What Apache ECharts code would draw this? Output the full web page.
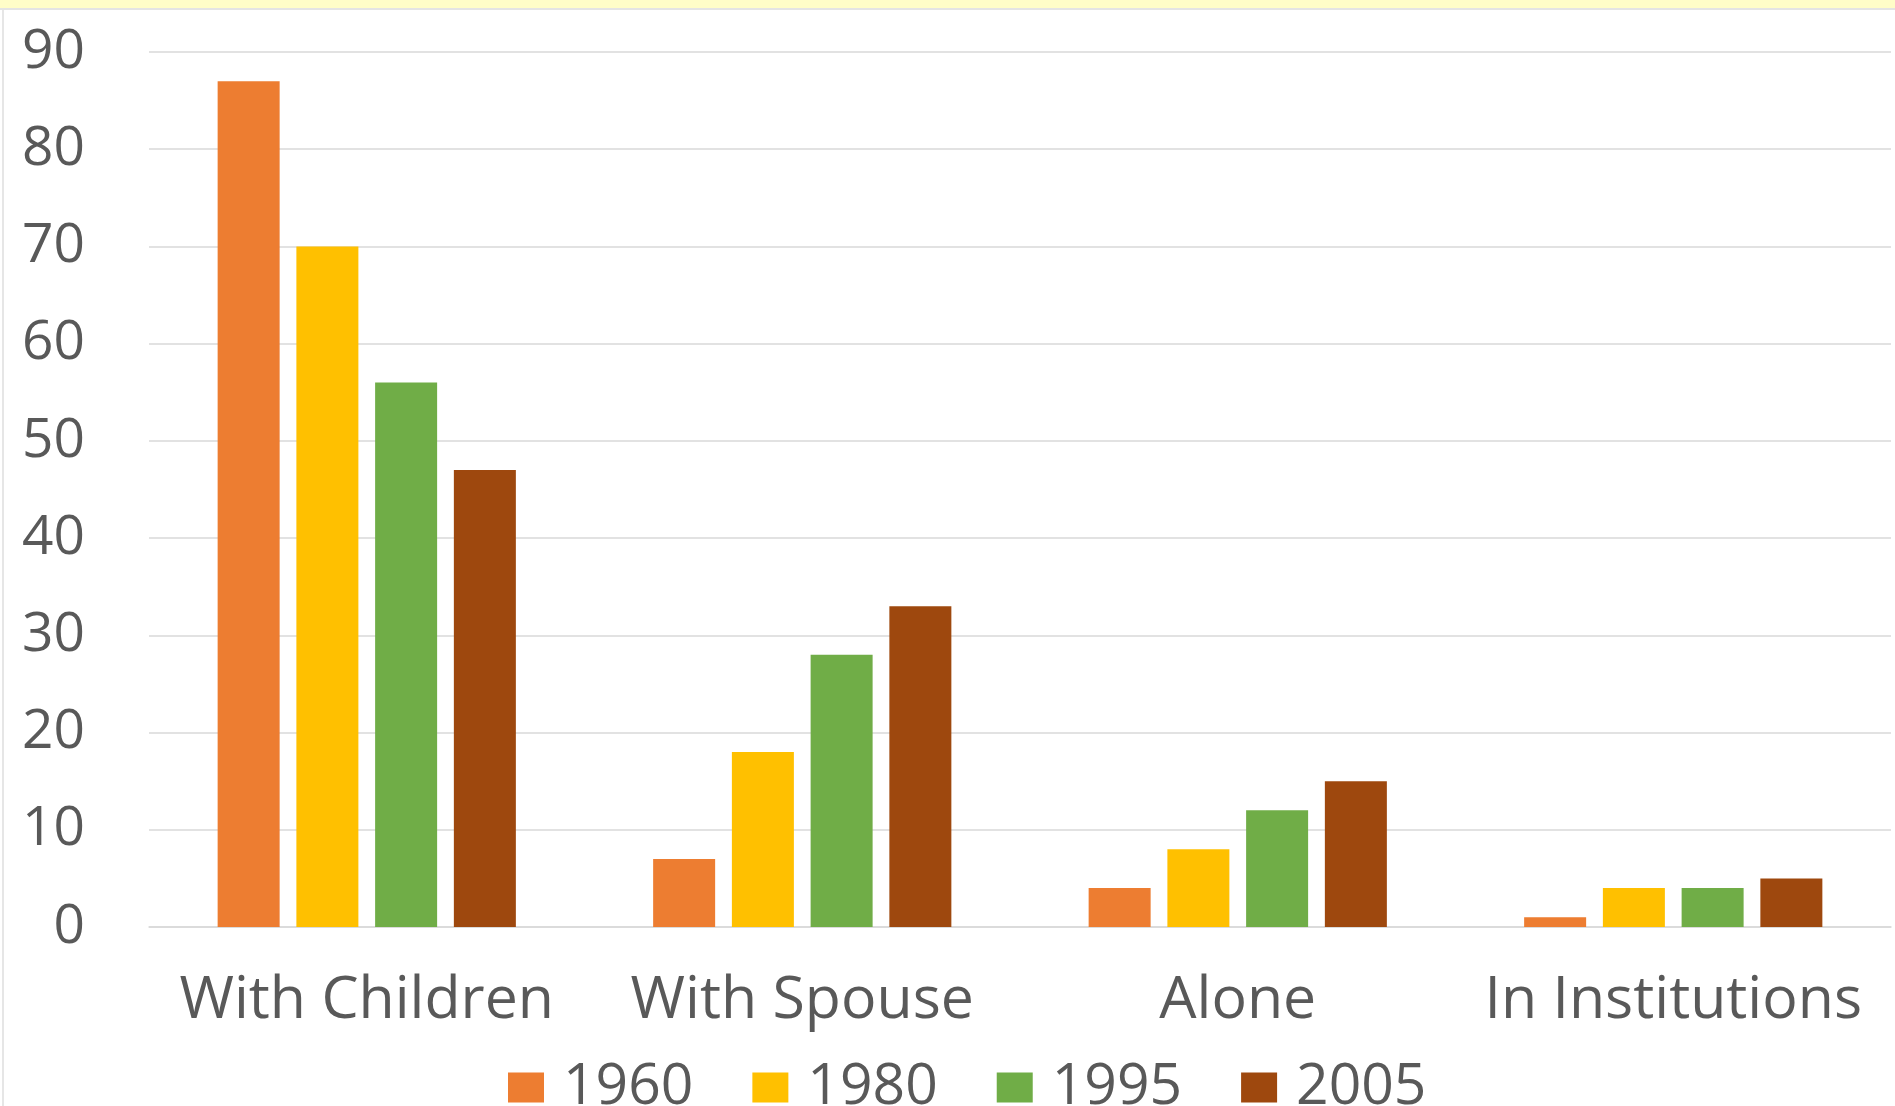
<!DOCTYPE html>
<html>
<head>
<meta charset="utf-8">
<title>Living arrangements</title>
<script src="https://cdn.jsdelivr.net/npm/echarts@6/dist/echarts.min.js"></script>
<style>
  html, body { margin: 0; padding: 0; background: #fff; }
  #chart { width: 1895px; height: 1106px; }
</style>
</head>
<body>
<div id="chart"></div>
<script>
// categories and values
const categories = ['With Children', 'With Spouse', 'Alone', 'In Institutions']
const years = ['1960', '1980', '1995', '2005']
const values1960 = [87, 7, 4, 1]
const values1980 = [70, 18, 8, 4]
const values1995 = [56, 28, 12, 4]
const values2005 = [47, 33, 15, 5]
const yTicks = [0, 10, 20, 30, 40, 50, 60, 70, 80, 90]

const colors = ['#ED7D31', '#FFC000', '#70AD47', '#9E480E']
const textColor = '#595959'
const font = 'Open Sans'

const chart = echarts.init(document.getElementById('chart'))

const seriesData = [values1960, values1980, values1995, values2005]

chart.setOption({
  animation: false,
  color: colors,
  textStyle: { fontFamily: font },
  grid: { left: 149, right: 4, top: 52, bottom: 179 },
  // yellow strip at the top and the thin frame on the left
  graphic: [
    { type: 'rect', left: 0, top: 0, shape: { width: 1895, height: 8 }, style: { fill: '#FFFDC8' } },
    { type: 'rect', left: 0, top: 8, shape: { width: 1895, height: 2 }, style: { fill: '#E4E4E4' } },
    { type: 'rect', left: 2, top: 10, shape: { width: 2, height: 1096 }, style: { fill: '#E6E6E6' } }
  ],
  legend: {
    data: years,
    left: 503,
    top: 1054,
    icon: 'rect',
    itemWidth: 36,
    itemHeight: 30,
    itemGap: 59,
    textStyle: { fontSize: 57, color: textColor, fontFamily: font, padding: [0, 0, 0, 14] }
  },
  xAxis: {
    type: 'category',
    data: categories,
    axisLine: { lineStyle: { color: '#D9D9D9', width: 1.5 } },
    axisTick: { show: false },
    axisLabel: { fontSize: 59, color: textColor, margin: 45, interval: 0, fontFamily: font }
  },
  yAxis: {
    type: 'value',
    min: yTicks[0],
    max: yTicks[yTicks.length - 1],
    interval: 10,
    axisLine: { show: false },
    axisTick: { show: false },
    splitLine: { lineStyle: { color: '#D9D9D9', width: 1.5 } },
    axisLabel: { fontSize: 55, color: textColor, margin: 64, fontFamily: font }
  },
  series: years.map((y, i) => ({
    name: y,
    type: 'bar',
    data: seriesData[i],
    barWidth: 62,
    barGap: '27%',
    barCategoryGap: '31%'
  }))
})
</script>
</body>
</html>
